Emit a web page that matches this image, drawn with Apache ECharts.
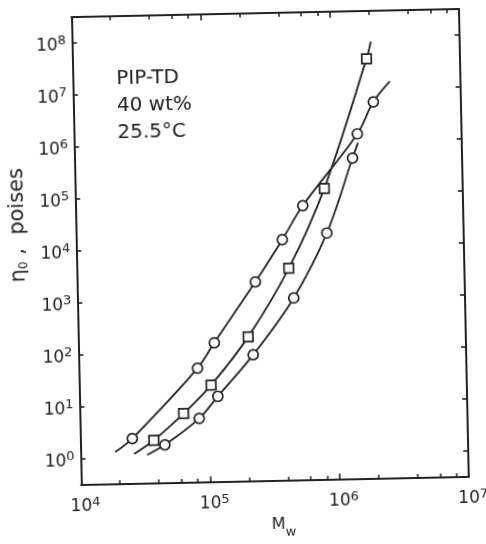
<!DOCTYPE html>
<html>
<head>
<meta charset="utf-8">
<script src="https://cdn.jsdelivr.net/npm/echarts@6/dist/echarts.min.js"></script>
<style>
  html, body { margin: 0; padding: 0; background: #ffffff; }
  #chart { width: 486px; height: 544px; transform: rotate(-1.2deg); transform-origin: 270.5px 251.7px; }
</style>
</head>
<body>
<div id="chart"></div>
<script>
// ---- data (Mw, eta0 in poises) ----
const xMajorTicks = [1e4, 1e5, 1e6, 1e7];
const xMinorTicks = [2e4, 4e4, 6e4, 8e4, 2e5, 4e5, 6e5, 8e5, 2e6, 4e6, 6e6, 8e6];
const yMajorTicks = [1, 10, 100, 1e3, 1e4, 1e5, 1e6, 1e7, 1e8];

const upperCirclePts = [[25300, 2.36], [83000, 50], [113000, 152], [240000, 2160], [394000, 13700], [575000, 60600], [1560000, 1380000], [2100000, 5600000]];
const upperCurveStart = [18600, 1.32];
const upperCurveEnd = [2840000, 13700000];

const squarePts = [[37100, 2.14], [63700, 6.8], [105000, 23.3], [207000, 191], [438000, 3840], [849000, 127000], [1890000, 37900000]];
const squareCurveStart = [26000, 1.19];
const squareCurveEnd = [2050000, 81000000];

const lowerCirclePts = [[45100, 1.73], [84000, 5.42], [118000, 14.1], [225000, 86], [473000, 1024], [874000, 17600], [1420000, 475000]];
const lowerCurveStart = [32800, 1.13];
const lowerCurveEnd = [1570000, 930000];

const annotationLines = ['PIP-TD', '40 wt%', '25.5°C'];

// ---- chart ----
const FONT = 'DejaVu Sans';
const INK = '#222222';
const X_MIN = 1e4, X_MAX = 1e7;
const Y_MIN = Math.pow(10, -0.5), Y_MAX = Math.pow(10, 8.5);

function powLabel(v) {
  const e = Math.round(Math.log10(v));
  return '{b|10}{s|' + e + '}';
}
const powRich = {
  b: { fontFamily: FONT, fontSize: 17, lineHeight: 22, color: INK },
  s: { fontFamily: FONT, fontSize: 13, lineHeight: 14, verticalAlign: 'top', color: INK }
};

function baseX(extra) {
  return Object.assign({
    type: 'log', logBase: 10, min: X_MIN, max: X_MAX,
    splitLine: { show: false }, minorTick: { show: false },
    axisLine: { show: false },
    axisLabel: { show: false },
    axisTick: { show: false }
  }, extra);
}
function baseY(extra) {
  return Object.assign({
    type: 'log', logBase: 10, min: Y_MIN, max: Y_MAX,
    splitLine: { show: false }, minorTick: { show: false },
    axisLine: { show: false },
    axisLabel: { show: false },
    axisTick: { show: false }
  }, extra);
}
const frameLine = { show: true, onZero: false, lineStyle: { color: INK, width: 2 } };
const majorTickStyle = { color: INK, width: 1.6 };
const minorTickStyle = { color: INK, width: 1.5 };

const chart = echarts.init(document.getElementById('chart'), null, { renderer: 'canvas' });
chart.setOption({
  animation: false,
  backgroundColor: '#ffffff',
  title: {
    text: annotationLines.join('\n'),
    left: 115, top: 57,
    textStyle: { fontFamily: FONT, fontSize: 20, fontWeight: 'normal', lineHeight: 27, color: INK }
  },
  grid: { left: 76, right: 19, top: 13, bottom: 53, containLabel: false },
  xAxis: [
    baseX({
      position: 'bottom',
      axisLine: frameLine,
      axisTick: { show: true, inside: true, length: 6, customValues: xMajorTicks, lineStyle: majorTickStyle },
      axisLabel: { show: true, margin: 11, customValues: xMajorTicks, formatter: powLabel, rich: powRich, padding: [0, 0, 0, 8] },
      name: '{m|M}{w|w}',
      nameLocation: 'middle',
      nameGap: 36,
      nameTextStyle: {
        padding: [0, 0, 0, 16],
        rich: {
          m: { fontFamily: FONT, fontSize: 16, lineHeight: 16, verticalAlign: 'top', color: INK },
          w: { fontFamily: FONT, fontSize: 13, lineHeight: 13, padding: [9, 0, 0, 0], verticalAlign: 'top', color: INK }
        }
      }
    }),
    baseX({
      position: 'bottom',
      axisTick: { show: true, inside: true, length: 4, customValues: xMinorTicks, lineStyle: minorTickStyle }
    }),
    baseX({
      position: 'top',
      axisLine: frameLine,
      axisTick: { show: true, inside: true, length: 6, customValues: xMajorTicks, lineStyle: majorTickStyle }
    }),
    baseX({
      position: 'top',
      axisTick: { show: true, inside: true, length: 4, customValues: xMinorTicks, lineStyle: minorTickStyle }
    })
  ],
  yAxis: [
    baseY({
      position: 'left',
      axisLine: frameLine,
      axisTick: { show: true, inside: true, length: 5, customValues: yMajorTicks, lineStyle: majorTickStyle },
      axisLabel: { show: true, margin: 6, customValues: yMajorTicks, formatter: powLabel, rich: powRich, padding: [5, 0, 0, 0] },
      name: '{e|η}{s|0}{e| ,  poises}',
      nameLocation: 'middle',
      nameRotate: 90,
      nameGap: 46,
      nameTextStyle: {
        padding: [0, 0, 0, 54],
        rich: {
          e: { fontFamily: FONT, fontSize: 21, lineHeight: 22, color: INK },
          s: { fontFamily: FONT, fontSize: 12, lineHeight: 12, verticalAlign: 'bottom', color: INK }
        }
      }
    }),
    baseY({
      position: 'right',
      axisLine: frameLine,
      axisTick: { show: true, inside: true, length: 5, customValues: yMajorTicks, lineStyle: majorTickStyle }
    })
  ],
  series: [
    { type: 'line', name: 'upper curve', data: [upperCurveStart].concat(upperCirclePts, [upperCurveEnd]),
      smooth: 0.35, showSymbol: false, symbol: 'none', lineStyle: { color: INK, width: 1.8 }, z: 2 },
    { type: 'line', name: 'square curve', data: [squareCurveStart].concat(squarePts, [squareCurveEnd]),
      smooth: 0.35, showSymbol: false, symbol: 'none', lineStyle: { color: INK, width: 1.8 }, z: 2 },
    { type: 'line', name: 'lower curve', data: [lowerCurveStart].concat(lowerCirclePts, [lowerCurveEnd]),
      smooth: 0.35, showSymbol: false, symbol: 'none', lineStyle: { color: INK, width: 1.8 }, z: 2 },
    { type: 'scatter', name: 'upper circles', data: upperCirclePts, symbol: 'circle', symbolSize: 10,
      itemStyle: { color: '#ffffff', borderColor: INK, borderWidth: 1.7, opacity: 1 }, z: 5 },
    { type: 'scatter', name: 'squares', data: squarePts, symbol: 'rect', symbolSize: 9.5,
      itemStyle: { color: '#ffffff', borderColor: INK, borderWidth: 1.7, opacity: 1 }, z: 5 },
    { type: 'scatter', name: 'lower circles', data: lowerCirclePts, symbol: 'circle', symbolSize: 10,
      itemStyle: { color: '#ffffff', borderColor: INK, borderWidth: 1.7, opacity: 1 }, z: 5 }
  ]
});
</script>
</body>
</html>
